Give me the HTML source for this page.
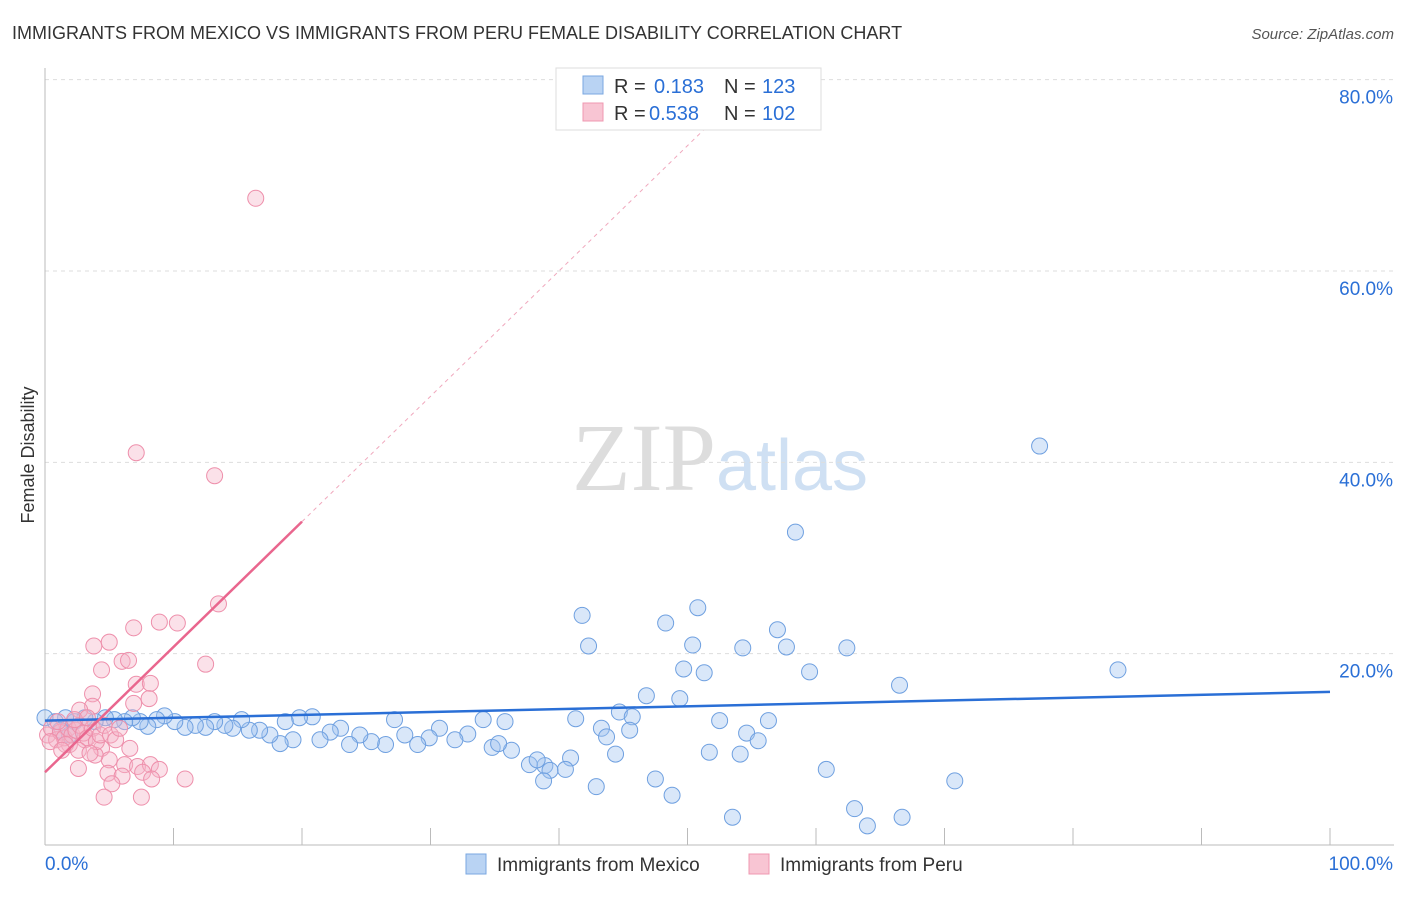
<!DOCTYPE html>
<html><head><meta charset="utf-8"><style>
body{margin:0;background:#fff;font-family:"Liberation Sans",sans-serif}
svg text{font-family:"Liberation Sans",sans-serif}
</style></head><body>
<svg id="chart" width="1406" height="892" xmlns="http://www.w3.org/2000/svg">
<text x="12" y="39" font-size="18" fill="#333">IMMIGRANTS FROM MEXICO VS IMMIGRANTS FROM PERU FEMALE DISABILITY CORRELATION CHART</text>
<text x="1394" y="39" font-size="15" fill="#555" font-style="italic" text-anchor="end">Source: ZipAtlas.com</text>
<text x="720" y="490" font-size="96" text-anchor="middle"><tspan fill="#ddd" font-family="Liberation Serif">ZIP</tspan><tspan fill="#cfe0f3" font-size="72">atlas</tspan></text>
<g id="grid"></g>
<g id="axes"></g>
<g id="pts"></g>
<g id="lines"></g>
<text transform="translate(34,455) rotate(-90)" font-size="18" fill="#333" text-anchor="middle">Female Disability</text>
<g>
<rect x="556" y="68" width="265" height="62" fill="#fff" stroke="#ddd"/>
<rect x="583" y="76" width="20" height="18" fill="#b9d3f3" stroke="#7aa7e0"/>
<rect x="583" y="103" width="20" height="18" fill="#f8c5d3" stroke="#ef98b0"/>
<text x="614" y="93" font-size="20" fill="#333">R =</text>
<text x="654" y="93" font-size="20" fill="#2a6fd6">0.183</text>
<text x="724" y="93" font-size="20" fill="#333">N =</text>
<text x="762" y="93" font-size="20" fill="#2a6fd6">123</text>
<text x="614" y="120" font-size="20" fill="#333">R =</text>
<text x="649" y="120" font-size="20" fill="#2a6fd6">0.538</text>
<text x="724" y="120" font-size="20" fill="#333">N =</text>
<text x="762" y="120" font-size="20" fill="#2a6fd6">102</text>
</g>
<g>
<rect x="466" y="854" width="20" height="20" fill="#b9d3f3" stroke="#7aa7e0"/>
<text x="497" y="871" font-size="19" fill="#333">Immigrants from Mexico</text>
<rect x="749" y="854" width="20" height="20" fill="#f8c5d3" stroke="#ef98b0"/>
<text x="780" y="871" font-size="19" fill="#333">Immigrants from Peru</text>
</g>
</svg>
<script>
const yTicks=[20,40,60,80];
const yTickLabels=["20.0%","40.0%","60.0%","80.0%"];
const xTicks=[0,10,20,30,40,50,60,70,80,90,100];
const mexX=[77.4,58.4,41.8,50.8,48.3,42.3,50.4,54.3,57.0,57.7,62.4,49.7,51.3,59.5,83.5,66.5,46.8,49.4,44.7,45.7,41.3,52.5,56.3,43.3,45.5,54.6,43.7,55.5,51.7,54.1,44.4,60.8,70.8,47.5,48.8,42.9,53.5,63.0,66.7,64.0,40.9,38.9,40.5,39.3,37.7,38.8,38.3,36.3,34.8,35.8,35.3,34.1,32.9,31.9,30.7,29.9,29.0,28.0,27.2,26.5,25.4,24.5,23.7,23.0,22.2,21.4,20.8,19.8,19.3,18.7,18.3,17.5,16.7,15.9,15.3,14.6,14.0,13.2,12.5,11.7,10.9,10.1,9.3,8.7,8.0,7.4,6.8,6.2,5.4,4.7,3.9,3.1,2.3,1.6,0.8,0.0,1.2,1.9];
const mexY=[41.7,32.7,24.0,24.8,23.2,20.8,20.9,20.6,22.5,20.7,20.6,18.4,18.0,18.1,18.3,16.7,15.6,15.3,13.9,13.4,13.2,13.0,13.0,12.2,12.0,11.7,11.3,10.9,9.7,9.5,9.5,7.9,6.7,6.9,5.2,6.1,2.9,3.8,2.9,2.0,9.1,8.3,7.9,7.8,8.4,6.7,8.9,9.9,10.2,12.9,10.6,13.1,11.6,11.0,12.2,11.2,10.5,11.5,13.1,10.5,10.8,11.5,10.5,12.2,11.8,11.0,13.4,13.3,11.0,12.9,10.6,11.5,12.0,12.0,13.1,12.2,12.5,12.9,12.3,12.5,12.3,12.9,13.5,13.1,12.4,12.9,13.3,12.9,13.1,13.3,12.9,13.3,12.9,13.3,12.9,13.3,12.0,11.5];
const peruX=[16.4,7.1,13.2,13.5,8.9,10.3,6.9,3.8,5.0,6.0,6.5,4.4,12.5,7.1,8.2,3.7,8.1,6.9,3.7,2.7,3.1,4.4,5.0,6.2,7.2,8.2,8.9,10.9,4.9,6.0,7.6,8.3,5.2,4.6,7.5,2.6,3.9,6.6,1.9,0.2,0.5,0.9,1.2,1.5,1.8,2.1,2.4,2.7,3.0,3.3,3.7,4.0,4.3,4.6,5.1,5.5,5.8,0.4,1.0,1.6,2.3,3.3,2.6,1.3,3.5];
const peruY=[67.6,41.0,38.6,25.2,23.3,23.2,22.7,20.8,21.2,19.2,19.3,18.3,18.9,16.8,16.9,15.8,15.3,14.8,14.5,14.1,11.0,10.1,8.9,8.4,8.2,8.4,7.9,6.9,7.5,7.2,7.6,6.9,6.4,5.0,5.0,8.0,9.4,10.1,10.5,11.5,12.2,11.0,11.8,11.2,12.2,11.5,12.0,12.5,11.7,11.2,12.2,10.8,11.5,12.5,11.5,11.0,12.2,10.8,12.9,10.5,13.1,13.3,9.9,9.9,9.6];
const mexLine=[13.0,16.0];
const peruLine=[7.6,1.31];
const NS="http://www.w3.org/2000/svg";
const sx=v=>45+v*12.85, sy=v=>845-v*9.567;
function mk(p,t,a){const e=document.createElementNS(NS,t);for(const k in a)e.setAttribute(k,a[k]);p.appendChild(e);return e;}
const grid=document.getElementById('grid'),axes=document.getElementById('axes'),pts=document.getElementById('pts'),lines=document.getElementById('lines');
yTicks.forEach((t,i)=>{
 const l=mk(grid,'line',{x1:45,x2:1394,y1:sy(t),y2:sy(t),stroke:'#ddd','stroke-dasharray':'4,4'});
 
 
 const tx=mk(axes,'text',{x:1393,y:sy(t)+24,'font-size':19,fill:'#2a6fd6','text-anchor':'end'});
 tx.textContent=yTickLabels[i];
 
 
});
const ya=mk(axes,'line',{x1:45,x2:45,y1:68,y2:845,stroke:'#bbb'});


const xa=mk(axes,'line',{x1:45,x2:1394,y1:845,y2:845,stroke:'#bbb'});


xTicks.forEach(t=>{
 const l=mk(axes,'line',{x1:sx(t),x2:sx(t),y1:828,y2:845,stroke:'#bbb'});
 
 
});
const x0=mk(axes,'text',{x:45,y:870,'font-size':19,fill:'#2a6fd6'});x0.textContent='0.0%';


const x1=mk(axes,'text',{x:1393,y:870,'font-size':19,fill:'#2a6fd6','text-anchor':'end'});x1.textContent='100.0%';


mexX.forEach((x,i)=>{
 const c=mk(pts,'circle',{cx:sx(x),cy:sy(mexY[i]),r:8,fill:'rgba(160,195,240,0.4)',stroke:'#6fa0e0','stroke-width':1});
 
 
});
peruX.forEach((x,i)=>{
 const c=mk(pts,'circle',{cx:sx(x),cy:sy(peruY[i]),r:8,fill:'rgba(246,180,200,0.4)',stroke:'#ee8fab','stroke-width':1});
 
 
});
const ml=mk(lines,'line',{x1:sx(0),y1:sy(mexLine[0]),x2:sx(100),y2:sy(mexLine[1]),stroke:'#2a6fd6','stroke-width':2.5});


const pl=mk(lines,'line',{x1:sx(0),y1:sy(peruLine[0]),x2:sx(20),y2:sy(peruLine[0]+peruLine[1]*20),stroke:'#e9668e','stroke-width':2.5});


const pd=mk(lines,'line',{x1:sx(20),y1:sy(peruLine[0]+peruLine[1]*20),x2:sx(52.5),y2:sy(peruLine[0]+peruLine[1]*52.5),stroke:'#f0a8bd','stroke-width':1,'stroke-dasharray':'4,4'});


</script>
</body></html>
